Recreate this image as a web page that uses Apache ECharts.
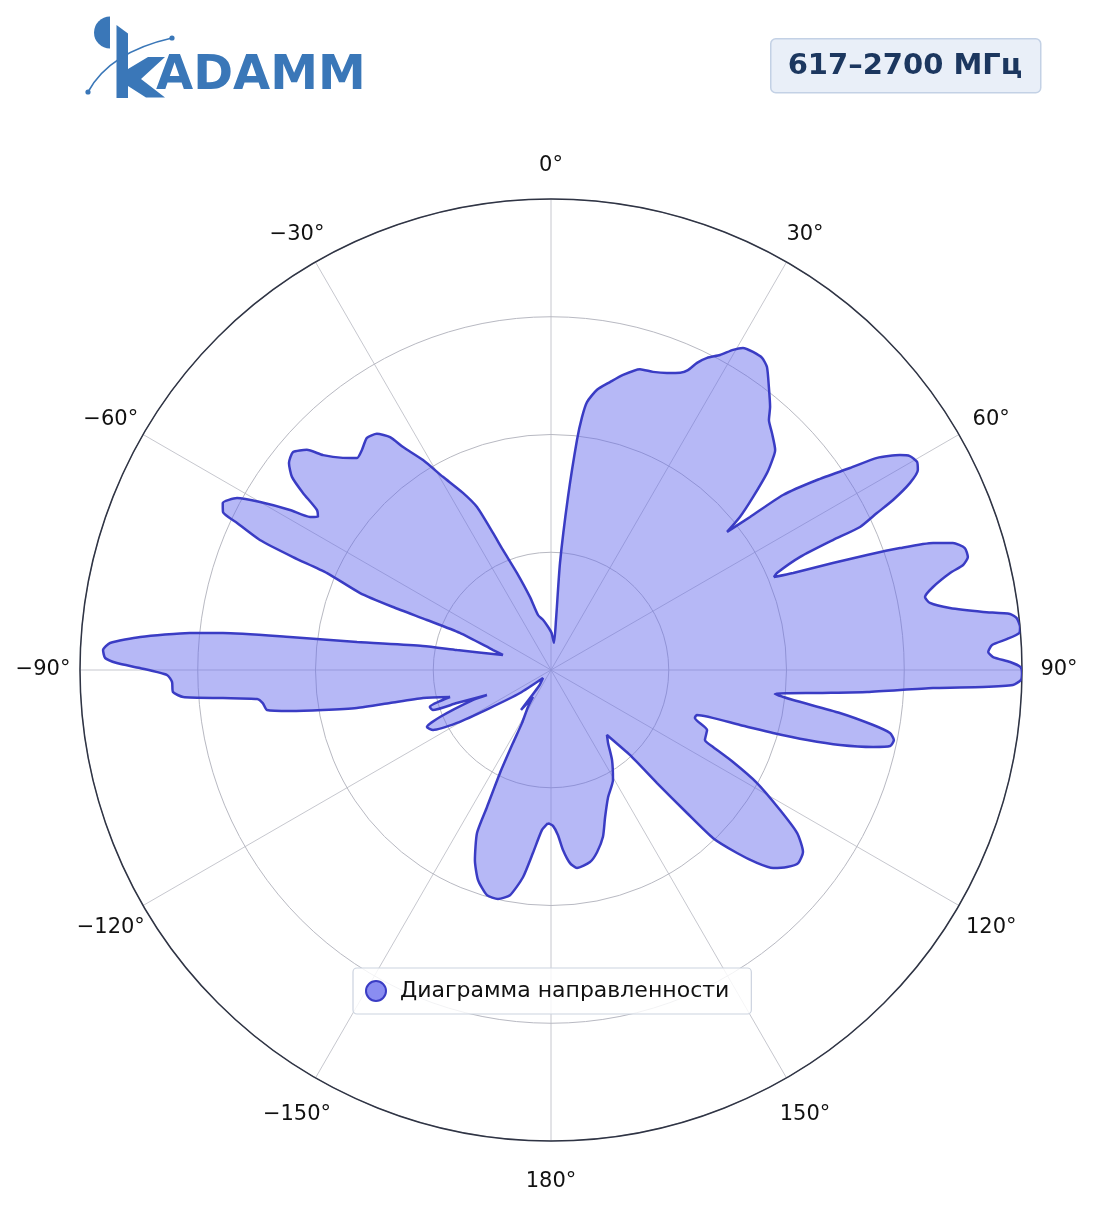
<!DOCTYPE html>
<html>
<head>
<meta charset="utf-8">
<script src="https://cdn.jsdelivr.net/npm/echarts@6/dist/echarts.min.js"></script>
<style>
html,body{margin:0;padding:0;background:#fff;}
#c{width:1104px;height:1211px;}
</style>
</head>
<body>
<div id="c"></div>
<script>
// ---- data ----
const seriesName = 'Диаграмма направленности';
const bandLabel = '617–2700 МГц';
const angleTicks = [-180, -150, -120, -90, -60, -30, 0, 30, 60, 90, 120, 150, 180];
const radiusTicks = [0, 0.25, 0.5, 0.75, 1];

const angleDeg = [
 -178.88,-176.78,-174.38,-172.30,-169.67,-166.97,-164.12,-160.84,-158.2,-155.58,
 -154.96,-153.66,-152.5,-151.32,-148.13,-146.3,-143.1,-143.1,-135.0,-126.6,
 -121.9,-119.4,-116.95,-114.7,-112.95,-111.0,-111.34,-109.34,-108.7,-107.0,
 -104.97,-102.34,-101.58,-101.08,-99.95,-98.93,-98.02,-96.54,-95.63,-94.88,
 -94.2,-93.33,-91.81,-90.75,-89.72,-89.08,-88.46,-87.44,-86.5,-85.41,
 -84.15,-83.56,-82.79,-81.79,-79.38,-77.99,-72.65,-70.97,-67.87,-68.04,
 -68.26,-68.04,-66.59,-66.35,-65.93,-64.9,-64.28,-63.02,-61.29,-60.0,
 -58.49,-57.59,-56.71,-55.64,-54.48,-53.3,-51.69,-49.8,-47.96,-46.68,
 -44.46,-42.46,-40.67,-38.42,-36.4,-34.65,-33.57,-31.37,-29.23,-26.43,
 -24.42,-22.94,-21.8,-19.32,-16.05,-13.3,-9.09,-3.99,0.77,6.34,
 5.71,4.81,5.61,6.45,6.99,7.65,9.33,11.58,13.72,16.47,
 18.89,21.33,23.48,24.54,25.43,26.57,28.21,29.63,30.8,32.42,
 34.07,35.48,37.61,39.78,41.09,42.99,45.52,46.32,47.63,49.42,
 51.0,51.9,52.45,52.97,54.46,55.96,56.96,58.37,59.2,60.39,
 61.41,62.49,63.57,64.29,65.17,65.25,65.59,66.77,67.36,68.16,
 69.22,69.99,70.74,71.61,72.47,73.58,74.84,75.7,76.34,77.74,
 78.96,79.97,81.17,82.35,83.04,83.67,84.79,85.49,86.11,86.76,
 87.64,88.32,89.0,89.64,90.36,91.21,91.86,92.25,92.7,93.98,
 94.94,96.12,97.07,98.46,99.69,100.53,101.53,102.64,103.45,104.55,
 105.29,105.84,106.22,107.13,108.43,111.04,114.44,115.42,116.82,118.75,
 121.44,123.53,125.84,127.99,129.85,131.72,133.13,134.53,136.04,136.44,
 136.83,137.1,139.25,142.02,145.87,150.59,155.83,159.83,162.7,165.82,
 168.52,172.52,174.38,176.19,177.57,179.27,-178.88
];
const gain = [
 0.325,0.340,0.390,0.444,0.486,0.499,0.497,0.472,0.435,0.380,
 0.321,0.244,0.175,0.128,0.093,0.069,0.106,0.042,0.024,0.082,
 0.153,0.229,0.281,0.290,0.256,0.177,0.146,0.212,0.265,0.269,
 0.222,0.278,0.349,0.420,0.492,0.561,0.609,0.616,0.627,0.699,
 0.783,0.804,0.805,0.815,0.873,0.922,0.947,0.952,0.938,0.875,
 0.771,0.701,0.559,0.416,0.277,0.204,0.107,0.130,0.209,0.284,
 0.361,0.437,0.518,0.598,0.677,0.736,0.773,0.782,0.760,0.713,
 0.650,0.606,0.592,0.602,0.647,0.686,0.709,0.717,0.698,0.665,
 0.631,0.610,0.616,0.629,0.623,0.601,0.568,0.522,0.470,0.420,
 0.380,0.316,0.274,0.218,0.161,0.120,0.108,0.092,0.079,0.058,
 0.107,0.228,0.369,0.492,0.541,0.574,0.603,0.624,0.645,0.666,
 0.669,0.677,0.688,0.700,0.722,0.741,0.759,0.782,0.796,0.800,
 0.800,0.790,0.758,0.727,0.704,0.688,0.667,0.652,0.621,0.565,
 0.516,0.475,0.533,0.617,0.694,0.766,0.826,0.870,0.887,0.894,
 0.887,0.859,0.811,0.768,0.723,0.659,0.581,0.522,0.513,0.554,
 0.640,0.714,0.785,0.855,0.895,0.916,0.917,0.903,0.872,0.830,
 0.809,0.817,0.857,0.926,0.982,0.995,1.000,0.997,0.971,0.938,
 0.929,0.939,0.975,0.997,1.000,0.998,0.981,0.918,0.812,0.673,
 0.567,0.478,0.518,0.620,0.694,0.732,0.743,0.738,0.703,0.634,
 0.564,0.490,0.418,0.324,0.322,0.355,0.359,0.381,0.433,0.499,
 0.570,0.627,0.660,0.666,0.653,0.632,0.599,0.554,0.496,0.419,
 0.329,0.246,0.182,0.197,0.231,0.268,0.296,0.333,0.371,0.399,
 0.416,0.424,0.412,0.383,0.351,0.331,0.325
];

// ---- chart ----
const FONT = 'DejaVu Sans';
const seriesData = gain.map((r, i) => [r, angleDeg[i]]);
const tickKey = {0:'t', 30:'a', 60:'b', 90:'h', 120:'c', 150:'d', 180:'u'};
const tok = (w, h) => ({width: w, height: h, lineHeight: h, align: 'center', fontSize: 21, fontFamily: FONT, color: '#111'});

const LOGO = '#3a77b8';
const chart = echarts.init(document.getElementById('c'), null, {renderer: 'canvas'});
chart.setOption({
  animation: false,
  backgroundColor: '#ffffff',
  polar: {center: [551, 670], radius: 471},
  angleAxis: {
    type: 'value',
    min: angleTicks[0], max: angleTicks[angleTicks.length - 1], interval: 30,
    startAngle: 270, clockwise: true,
    axisLine: {show: true, lineStyle: {color: '#2f3444', width: 1.5}},
    axisTick: {show: false},
    splitLine: {show: true, lineStyle: {color: '#b8b9c2', width: 0.8}},
    axisLabel: {
      margin: 5, fontSize: 21, fontFamily: FONT, color: '#111',
      formatter: function (v) {
        const a = Math.abs(v);
        const txt = (v < 0 && a !== 180 ? '\u2212' : '') + a + '°';
        return '{' + tickKey[a] + '|' + txt + '}';
      },
      rich: {
        t: tok(60, 56), u: tok(60, 72), a: tok(32, 46), b: tok(56, 24),
        c: tok(56, 40), d: tok(32, 64), h: tok(64, 24)
      }
    }
  },
  radiusAxis: {
    type: 'value', min: radiusTicks[0], max: radiusTicks[radiusTicks.length - 1], interval: 0.25,
    axisLine: {show: false}, axisTick: {show: false}, axisLabel: {show: false},
    splitLine: {show: true, lineStyle: {color: '#b8b9c2', width: 1}}
  },
  legend: {
    left: 353, top: 968, orient: 'horizontal',
    padding: [12, 22, 12, 12],
    backgroundColor: 'rgba(255,255,255,0.82)',
    borderColor: '#ccd3df', borderWidth: 1.2, borderRadius: 4,
    itemWidth: 20, itemHeight: 20,
    textStyle: {fontSize: 22, fontFamily: FONT, color: '#111', padding: [0, 0, 0, 9]},
    data: [{name: seriesName, icon: 'circle',
      itemStyle: {color: '#8a8df1', borderColor: '#3a3cc4', borderWidth: 2}}]
  },
  series: [{
    name: seriesName,
    type: 'line',
    coordinateSystem: 'polar',
    data: seriesData,
    symbol: 'none',
    clip: false,
    smooth: 0.2,
    lineStyle: {color: '#3a3cc4', width: 2.5},
    itemStyle: {color: '#8a8df1'},
    areaStyle: {color: 'rgba(100,105,235,0.47)', opacity: 1},
    z: 3
  }],
  graphic: [
    {type: 'rect', left: 770, top: 38, shape: {width: 270, height: 54, r: 5},
     style: {fill: '#e9eff8', stroke: '#c3d1e5', lineWidth: 1.5}},
    {type: 'text', x: 905, y: 66,
     style: {text: bandLabel, align: 'center', verticalAlign: 'middle',
             font: 'bold 29px "DejaVu Sans"', fill: '#1c375f'}},
    // logo
    {type: 'sector', shape: {cx: 110, cy: 32.5, r: 16, startAngle: Math.PI / 2, endAngle: Math.PI * 1.5},
     style: {fill: LOGO}},
    {type: 'polygon', shape: {points: [[116.5, 25], [128, 33.5], [128, 98], [116.5, 98]]}, style: {fill: LOGO}},
    {type: 'polygon', shape: {points: [[128, 69], [148, 57], [165, 57], [141, 79], [165, 97.5], [146, 97.5], [128, 86]]},
     style: {fill: LOGO}},
    {type: 'bezierCurve', shape: {x1: 88, y1: 92, cpx1: 102, cpy1: 66, cpx2: 128, cpy2: 48, x2: 172, y2: 38},
     style: {stroke: LOGO, lineWidth: 1.6, fill: null}},
    {type: 'circle', shape: {cx: 88, cy: 92, r: 2.6}, style: {fill: LOGO}},
    {type: 'circle', shape: {cx: 172, cy: 38, r: 2.6}, style: {fill: LOGO}},
    {type: 'text', x: 156, y: 77,
     style: {text: 'ADAMM', align: 'left', verticalAlign: 'middle',
             font: 'bold 48px "DejaVu Sans"', fill: LOGO}}
  ]
});
</script>
</body>
</html>
